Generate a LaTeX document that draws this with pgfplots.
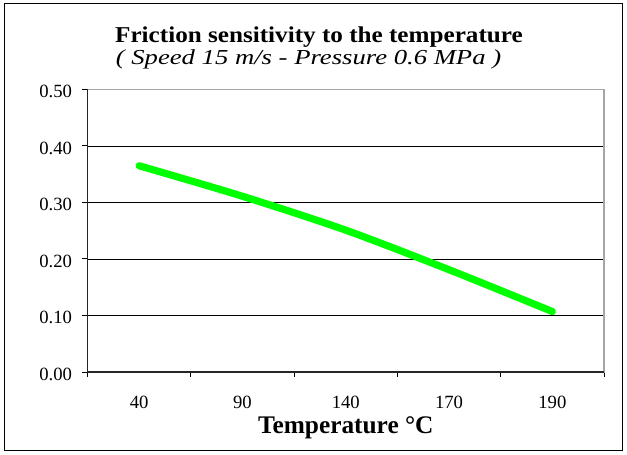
\documentclass[border=0pt]{standalone}
\usepackage{fontspec}
\setmainfont{Liberation Serif}
\usepackage{pgfplots}
\pgfplotsset{compat=1.18}
\definecolor{excelgreen}{RGB}{0,255,0}

\begin{document}
\begin{tikzpicture}[x=1pt,y=1pt]
    % page = 627 x 454 px at 0.75 pt per px, origin at the plot's lower left corner
    \useasboundingbox (-65.625,-61.5) rectangle (404.625,279);
    \draw[line width=0.75pt] (-62.25,-58.8) rectangle (401.6,276);
    \begin{axis}[
            at={(0,0)}, anchor=south west,
            scale only axis,
            width=387.4pt,
            height=211.9pt,
            xmin=-0.5, xmax=4.5,
            ymin=0, ymax=0.5,
            % category separators as ticks, category names as extra ticks
            xtick={-0.5,0.5,1.5,2.5,3.5,4.5},
            xticklabels={},
            extra x ticks={0,1,2,3,4},
            extra x tick labels={40,90,140,170,190},
            extra x tick style={major tick style={draw=none}},
            ytick={0,0.1,0.2,0.3,0.4,0.5},
            xtick pos=bottom,
            ytick pos=left,
            yticklabel style={/pgf/number format/fixed, /pgf/number format/fixed zerofill, /pgf/number format/precision=2, xshift=-4.4pt, yshift=-1.7pt},
            /pgf/number format/assume math mode=true,
            tick align=outside,
            major tick length=3.75pt,
            tick style={black, line width=0.75pt},
            ymajorgrids,
            major grid style={black, line width=0.6pt},
            axis line style={draw=gray!70, line width=0.9pt},
            ticklabel style={font=\fontsize{14}{16}\selectfont},
            xticklabel style={anchor=base, yshift=-23.7pt},
            xlabel={\textbf{Temperature \textdegree C}},
            xlabel style={font=\fontsize{19}{21}\selectfont, at={(axis description cs:0.5,0)}, anchor=base, yshift=-46pt},
            clip=false,
        ]
        \addplot[color=excelgreen, line width=5.4pt, line cap=round, smooth]
        coordinates {
                (0, 0.365)
                (1, 0.311)
                (2, 0.251)
                (3, 0.181)
                (4, 0.107)
            };
        \draw[black!85, line width=0.9pt] (rel axis cs:0,1) -- (rel axis cs:0,0) -- (rel axis cs:1,0);
    \end{axis}
    % titles are set wide in the reference, so they are stretched sideways
    \node[anchor=base, xscale=1.11, font=\fontsize{17}{19}\selectfont\bfseries]
        at (173.6,247.3) {Friction sensitivity to the temperature};
    \node[anchor=base, xscale=1.25, font=\fontsize{16}{18}\selectfont\itshape]
        at (165.75,230.8) {( Speed 15 m/s - Pressure 0.6 MPa )};
\end{tikzpicture}
\end{document}
